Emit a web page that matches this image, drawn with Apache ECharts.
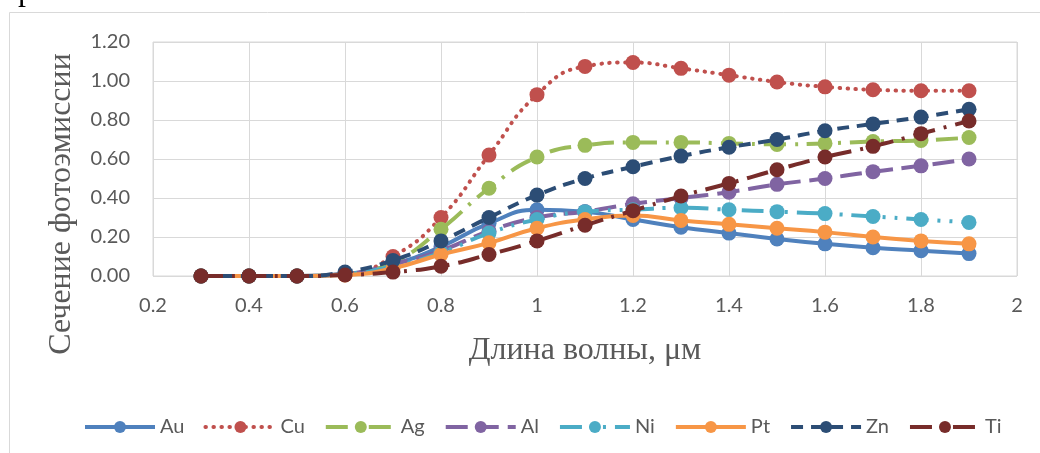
<!DOCTYPE html>
<html>
<head>
<meta charset="utf-8">
<script src="https://cdn.jsdelivr.net/npm/echarts@6/dist/echarts.min.js"></script>
<style>
  html, body { margin: 0; padding: 0; background: #ffffff; }
  #chart { width: 1040px; height: 453px; }
</style>
</head>
<body>
<div id="chart"></div>
<script>
// Wavelength, µm
const wavelengths = [0.3, 0.4, 0.5, 0.6, 0.7, 0.8, 0.9, 1.0, 1.1, 1.2, 1.3, 1.4, 1.5, 1.6, 1.7, 1.8, 1.9];

// Photoemission cross-section per metal
const au = [0, 0, 0, 0.01, 0.06, 0.15, 0.27, 0.34, 0.33, 0.29, 0.25, 0.22, 0.19, 0.165, 0.145, 0.13, 0.115];
const cu = [0, 0, 0, 0.01, 0.10, 0.30, 0.62, 0.93, 1.075, 1.095, 1.065, 1.03, 0.995, 0.97, 0.955, 0.95, 0.95];
const ag = [0, 0, 0, 0.01, 0.07, 0.24, 0.45, 0.61, 0.67, 0.685, 0.685, 0.68, 0.675, 0.68, 0.69, 0.695, 0.71];
const al = [0, 0, 0, 0.01, 0.06, 0.13, 0.23, 0.30, 0.33, 0.37, 0.40, 0.43, 0.47, 0.50, 0.535, 0.565, 0.60];
const ni = [0, 0, 0, 0.01, 0.05, 0.12, 0.22, 0.29, 0.33, 0.34, 0.35, 0.34, 0.33, 0.32, 0.305, 0.29, 0.275];
const pt = [0, 0, 0, 0.005, 0.04, 0.11, 0.17, 0.245, 0.29, 0.31, 0.285, 0.265, 0.245, 0.225, 0.20, 0.18, 0.165];
const zn = [0, 0, 0, 0.02, 0.08, 0.18, 0.30, 0.415, 0.50, 0.56, 0.615, 0.66, 0.70, 0.745, 0.78, 0.815, 0.855];
const ti = [0, 0, 0, 0.005, 0.02, 0.05, 0.11, 0.18, 0.26, 0.335, 0.41, 0.475, 0.545, 0.61, 0.665, 0.73, 0.795];

const seriesNames = ['Au', 'Cu', 'Ag', 'Al', 'Ni', 'Pt', 'Zn', 'Ti'];
const seriesValues = [au, cu, ag, al, ni, pt, zn, ti];

const xTitle = 'Длина волны, μм';
const yTitle = 'Сечение фотоэмиссии';

// Line look for each metal
const looks = {
  Au: { color: '#4F81BD', type: 'solid', cap: 'butt' },
  Cu: { color: '#C0504D', type: [0.5, 7.5], cap: 'round' },
  Ag: { color: '#9BBB59', type: [22, 9, 3, 9], cap: 'butt' },
  Al: { color: '#8064A2', type: [22, 9], cap: 'butt' },
  Ni: { color: '#4BACC6', type: [22, 9, 3, 9, 3, 9], cap: 'butt' },
  Pt: { color: '#F79646', type: 'solid', cap: 'butt' },
  Zn: { color: '#2C4D75', type: [12, 8], cap: 'butt' },
  Ti: { color: '#772C2A', type: [22, 9, 3, 9], cap: 'butt' }
};

const series = seriesNames.map((name, i) => {
  const look = looks[name];
  return {
    name: name,
    type: 'line',
    data: wavelengths.map((w, k) => [w, seriesValues[i][k]]),
    smooth: 0.5,
    symbol: 'circle',
    symbolSize: 15,
    showAllSymbol: true,
    lineStyle: { color: look.color, width: 4, type: look.type, cap: look.cap },
    itemStyle: { color: look.color },
    emphasis: { disabled: true },
    z: 2 + i
  };
});

const chart = echarts.init(document.getElementById('chart'), null, { renderer: 'canvas' });
const labelFont = 'Lato, "Open Sans", sans-serif';
const serifFont = '"Liberation Serif", "DejaVu Serif", serif';

chart.setOption({
  animation: false,
  backgroundColor: '#ffffff',
  grid: {
    left: 153, right: 23, top: 42, bottom: 177,
    show: true, borderColor: '#D9D9D9', borderWidth: 1
  },
  xAxis: {
    type: 'value',
    min: 0.2, max: 2, interval: 0.2,
    axisLine: { show: false },
    axisTick: { show: false },
    splitLine: { show: true, lineStyle: { color: '#D9D9D9', width: 1 } },
    axisLabel: { color: '#595959', fontSize: 20, fontFamily: labelFont, margin: 20 }
  },
  yAxis: {
    type: 'value',
    min: 0, max: 1.2, interval: 0.2,
    axisLine: { show: false },
    axisTick: { show: false },
    splitLine: { show: true, lineStyle: { color: '#D9D9D9', width: 1 } },
    axisLabel: {
      color: '#595959', fontSize: 20, fontFamily: labelFont, margin: 23,
      formatter: v => v.toFixed(2)
    }
  },
  legend: {
    data: seriesNames,
    left: 78, top: 412,
    itemWidth: 70, itemHeight: 15, itemGap: 19,
    lineStyle: { width: 4 },
    textStyle: { color: '#595959', fontSize: 20, fontFamily: labelFont },
    selectedMode: false
  },
  graphic: [
    {
      type: 'rect',
      shape: { x: 9.5, y: 12.5, width: 1200, height: 700 },
      style: { fill: 'none', stroke: '#D9D9D9', lineWidth: 1 },
      silent: true
    },
    {
      type: 'text',
      left: 18, top: -24,
      style: { text: 'р', fill: '#000000', font: '32px ' + serifFont },
      silent: true
    },
    {
      type: 'text',
      x: 585, y: 351,
      style: {
        text: xTitle, fill: '#595959', font: '32px ' + serifFont,
        textAlign: 'center', textVerticalAlign: 'middle'
      },
      silent: true
    },
    {
      type: 'text',
      x: 62, y: 204,
      rotation: Math.PI / 2,
      style: {
        text: yTitle, fill: '#595959', font: '32px ' + serifFont,
        textAlign: 'center', textVerticalAlign: 'middle'
      },
      silent: true
    }
  ],
  series: series
});
</script>
</body>
</html>
